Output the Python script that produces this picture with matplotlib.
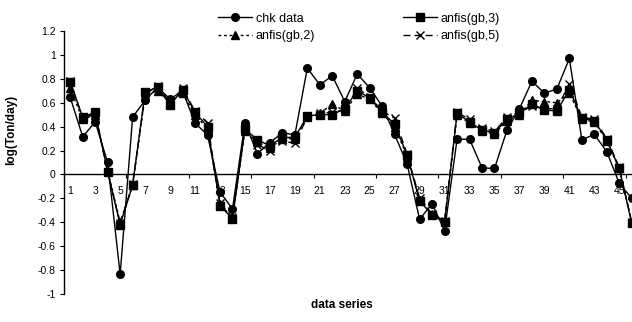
import matplotlib
matplotlib.use("Agg")
import matplotlib.pyplot as plt
from matplotlib.ticker import FixedLocator, FuncFormatter

plt.rcParams['font.family'] = ['Liberation Sans', 'DejaVu Sans']

series_idx = list(range(1, 47))
chk_data = [0.645, 0.315, 0.44, 0.10, -0.835, 0.48, 0.62, 0.73, 0.63, 0.70,
            0.43, 0.33, -0.145, -0.29, 0.43, 0.175, 0.265, 0.35, 0.33, 0.89,
            0.75, 0.825, 0.61, 0.84, 0.725, 0.57, 0.335, 0.085, -0.375, -0.245,
            -0.47, 0.295, 0.295, 0.055, 0.05, 0.37, 0.55, 0.78, 0.68, 0.715,
            0.97, 0.29, 0.335, 0.19, -0.075, -0.20]
anfis_gb3 = [0.77, 0.48, 0.52, 0.02, -0.42, -0.09, 0.69, 0.73, 0.58, 0.71,
             0.52, 0.40, -0.26, -0.37, 0.38, 0.29, 0.24, 0.31, 0.31, 0.49,
             0.50, 0.50, 0.55, 0.70, 0.64, 0.52, 0.42, 0.16, -0.22, -0.34,
             -0.40, 0.51, 0.44, 0.37, 0.35, 0.46, 0.51, 0.59, 0.54, 0.53,
             0.71, 0.47, 0.45, 0.29, 0.05, -0.41]
anfis_gb2 = [0.72, 0.46, 0.50, 0.03, -0.40, -0.09, 0.66, 0.70, 0.60, 0.68,
             0.50, 0.38, -0.25, -0.36, 0.36, 0.27, 0.22, 0.30, 0.30, 0.48,
             0.51, 0.59, 0.53, 0.67, 0.63, 0.51, 0.40, 0.15, -0.21, -0.33,
             -0.39, 0.50, 0.43, 0.36, 0.34, 0.45, 0.50, 0.62, 0.61, 0.60,
             0.68, 0.46, 0.44, 0.28, 0.05, -0.40]
anfis_gb5 = [0.78, 0.47, 0.51, 0.02, -0.41, -0.08, 0.67, 0.74, 0.60, 0.72,
             0.53, 0.43, -0.24, -0.36, 0.40, 0.25, 0.20, 0.28, 0.26, 0.48,
             0.51, 0.52, 0.54, 0.72, 0.65, 0.53, 0.47, 0.17, -0.20, -0.33,
             -0.39, 0.52, 0.46, 0.39, 0.36, 0.48, 0.52, 0.57, 0.55, 0.55,
             0.76, 0.48, 0.46, 0.30, 0.06, -0.40]
x_labels = [str(i) for i in range(1, 47, 2)]
y_ticks = [-1, -0.8, -0.6, -0.4, -0.2, 0, 0.2, 0.4, 0.6, 0.8, 1, 1.2]

W, H = 632, 322
fig = plt.figure(figsize=(W / 100, H / 100), dpi=100)
ax = fig.add_axes([64 / W, 28 / H, 574 / W, 263 / H])

lw = 1.0
h_chk, = ax.plot(series_idx, chk_data, color='black', lw=lw, marker='o', ms=5.5, zorder=5)
h_gb2, = ax.plot(series_idx, anfis_gb2, color='black', lw=lw, ls=(0, (2, 2)), marker='^', ms=5.5, zorder=3)
h_gb3, = ax.plot(series_idx, anfis_gb3, color='black', lw=lw, marker='s', ms=5.5, zorder=4)
h_gb5, = ax.plot(series_idx, anfis_gb5, color='black', lw=lw, ls=(0, (5, 3)), marker='x', ms=5.5, mew=1.0, zorder=3)

ax.set_xlim(0.5, 46.5)
ax.set_ylim(-1, 1.2)

for s in ['top', 'right']:
    ax.spines[s].set_visible(False)
ax.spines['bottom'].set_position(('data', 0))
ax.spines['left'].set_position(('data', 0.5))
for s in ['left', 'bottom']:
    ax.spines[s].set_linewidth(1.0)

ax.xaxis.set_major_locator(FixedLocator([0.5 + 5 * k for k in range(10)]))
ax.xaxis.set_major_formatter(FuncFormatter(lambda v, p: ''))
ax.set_xticks(list(range(1, 47, 2)), labels=x_labels, minor=True)
ax.tick_params(axis='x', which='major', direction='out', length=3, width=0.8)
ax.tick_params(axis='x', which='minor', length=0, labelsize=7.5, pad=8)

ax.set_yticks(y_ticks)
ax.yaxis.set_major_formatter(FuncFormatter(lambda v, p: f"{v:g}"))
ax.tick_params(axis='y', direction='out', length=3, width=0.8, labelsize=7.5, pad=3)

fig.text(11 / W, 1 - 130 / H, 'log(Ton/day)', rotation=90, fontsize=8.5,
         fontweight='bold', ha='center', va='center')
fig.text(342 / W, 1 - 305 / H, 'data series', fontsize=8.5,
         fontweight='bold', ha='center', va='center')

fig.legend([h_chk, h_gb2, h_gb3, h_gb5],
           ['chk data', 'anfis(gb,2)', 'anfis(gb,3)', 'anfis(gb,5)'],
           ncol=2, frameon=False, loc='center',
           bbox_to_anchor=(359 / W, 1 - 27.5 / H), fontsize=9,
           handlelength=2.7, handletextpad=0.35, columnspacing=7.0,
           labelspacing=0.45, borderpad=0.0)

fig.savefig('out.png', dpi=100)
